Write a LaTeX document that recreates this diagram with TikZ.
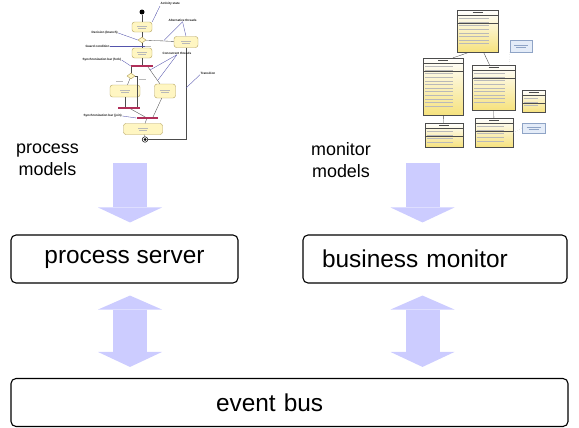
\documentclass[tikz,border=0pt]{standalone}
\usepackage{fontspec}
\setmainfont{Liberation Sans}
\usetikzlibrary{arrows.meta,shapes.geometric,positioning}

\definecolor{fatblue}{HTML}{CCCCFF}
\definecolor{actfill}{HTML}{FFF6C2}
\definecolor{actline}{HTML}{B3A05A}
\definecolor{barred}{HTML}{B0305A}
\definecolor{notefill}{HTML}{E4ECF8}
\definecolor{notepen}{HTML}{8FA4C6}
\definecolor{clsyellow}{HTML}{F6E27E}

\begin{document}
\begin{tikzpicture}[
  box/.style={draw,line width=1.1bp,rounded corners=5bp,inner sep=0pt,minimum height=48bp,font=\fontsize{24.5}{29}\selectfont},
  side/.style={align=center,inner sep=0pt,font=\fontsize{18}{22}\selectfont},
  fat/.style={draw=fatblue,line width=34bp,-{Triangle[length=15bp,width=64bp,line width=0pt]}},
  fatboth/.style={fat,{Triangle[length=14bp,width=64bp,line width=0pt]}-{Triangle[length=15bp,width=64bp,line width=0pt]}},
  scrib/.style={draw=gray!55,line width=.45bp},
  act/.style={draw=actline,fill=actfill,rounded corners=2.5bp,line width=.4bp,inner sep=0pt,minimum width=20bp,minimum height=10bp,
    path picture={\draw[scrib] ([xshift=-5bp,yshift=1.2bp]path picture bounding box.center) -- ++(10bp,0)
                               ([xshift=-4bp,yshift=-1.2bp]path picture bounding box.center) -- ++(8bp,0);}},
  branch/.style={diamond,draw=actline,fill=actfill,line width=.4bp,inner sep=0pt,minimum width=8bp,minimum height=6bp},
  syncbar/.style={fill=barred,inner sep=0pt,minimum height=1.6bp},
  flow/.style={draw=gray!60!black,line width=.35bp},
  lead/.style={draw=blue!35!gray,line width=.35bp},
  tag/.style={font=\fontsize{3.1}{3.6}\selectfont\bfseries,text=black!90,inner sep=.4bp},
  cls/.style={draw=gray!60!black,line width=.35bp,top color=white,bottom color=clsyellow,inner sep=0pt},
  clsline/.style={draw=gray!60!black,line width=.3bp},
  clstitle/.style={draw=black!70,line width=.7bp},
  note/.style={draw=notepen,fill=notefill,line width=.3bp,inner sep=0pt},
  assoc/.style={draw=gray!55!black,line width=.35bp},
  anchorline/.style={draw=gray!60,line width=.35bp,dotted}
]
\useasboundingbox (0,0) rectangle (579bp,-428bp);

% activity diagram (process models)
\node (start) at (142bp,-12bp)[circle,fill=black,inner sep=0pt,minimum size=5bp] {};
\node (A1) at (142bp,-27bp)[act] {};
\node (D1) at (142bp,-40bp)[branch] {};
\node (A2) at (142bp,-53bp)[act] {};
\node (A3) at (186bp,-42bp)[act,minimum width=24bp,minimum height=11bp] {};
\node (F1) at (142bp,-66bp)[syncbar,minimum width=22bp] {};
\node (D2) at (131bp,-76bp)[branch] {};
\node (A4) at (125bp,-91bp)[act,minimum width=30bp,minimum height=12bp] {};
\node (A5) at (165bp,-91bp)[act,minimum width=21bp,minimum height=14bp] {};
\node (J1) at (129bp,-108bp)[syncbar,minimum width=22bp] {};
\node (J2) at (147bp,-118bp)[syncbar,minimum width=21bp] {};
\node (A6) at (143bp,-129bp)[act,minimum width=39bp,minimum height=11bp] {};
\node (stop) at (145bp,-139.5bp)[circle,draw,line width=.5bp,inner sep=0pt,minimum size=5.5bp,
  label={[circle,fill=black,inner sep=0pt,minimum size=3bp]center:}] {};

\draw[flow] (start) -- (A1);
\draw[flow] (A1) -- (D1);
\draw[flow] (D1) -- (A2);
\draw[flow] (D1) -- (A3);
\draw[flow] (A2) -- (F1);
\draw[flow] (D2 |- F1.south) -- (D2);
\draw[flow] ([xshift=6bp]F1.south) -- (A5);
\draw[flow] (D2) -- (A4);
\draw[flow] (D2.east) -| ([xshift=8bp]J1.north);
\draw[flow] (A4) -- (A4 |- J1.north);
\draw[flow] (J1) -- (J2);
\draw[flow] (A5) -- ([xshift=6bp]J2.north);
\draw[flow] (J2) -- (A6);
\draw[flow] (A6) -- (stop);
\draw[flow] (A3) -- (A3 |- stop) -- (stop);
% guard marks
\draw[scrib] (155bp,-40.5bp) -- ++(8bp,0) (145bp,-46bp) -- ++(6bp,0)
             (116bp,-81bp) -- ++(7bp,0) (139bp,-79bp) -- ++(7bp,0);

\node (tAct) at (160bp,-4bp)[tag,anchor=west] {Activity state};
\node (tAlt) at (168bp,-20bp)[tag,anchor=west] {Alternative threads};
\node (tDec) at (91bp,-33bp)[tag,anchor=west] {Decision (branch)};
\node (tGrd) at (85bp,-46bp)[tag,anchor=west] {Guard condition};
\node (tCon) at (162bp,-53bp)[tag,anchor=west] {Concurrent threads};
\node (tFrk) at (82bp,-60bp)[tag,anchor=west] {Synchronization bar (fork)};
\node (tTrn) at (200bp,-73bp)[tag,anchor=west] {Transition};
\node (tJoi) at (83bp,-116bp)[tag,anchor=west] {Synchronization bar (join)};
\draw[lead] (tAct.south west) -- (A1.north east);
\draw[lead] (tAlt.south) -- (164bp,-40.5bp);
\draw[lead] (tAlt.south) -- (A3.north);
\draw[lead] (tDec.east) -- (D1.west);
\draw[lead] (tGrd.east) -- (145bp,-46bp);
\draw[lead] (tFrk.east) -- (F1.west);
\draw[lead] (tCon.south) -- (150bp,-70bp);
\draw[lead] (tCon.south) -- (158bp,-80bp);
\draw[lead] (tTrn.south west) -- (186bp,-88bp);
\draw[lead] (tJoi.east) -- (J2.west);

% class diagram (monitor models)
\node (C1) at (477.5bp,-31bp)[cls,minimum width=41bp,minimum height=42bp] {};
\node (C2) at (443bp,-86.5bp)[cls,minimum width=40bp,minimum height=57bp] {};
\node (C3) at (493.5bp,-87.5bp)[cls,minimum width=43bp,minimum height=45bp] {};
\node (C4) at (533.5bp,-101bp)[cls,minimum width=23bp,minimum height=22bp] {};
\node (C5) at (444bp,-135bp)[cls,minimum width=38bp,minimum height=24bp] {};
\node (C6) at (494bp,-132.5bp)[cls,minimum width=38bp,minimum height=29bp] {};
\node (N1) at (521bp,-46bp)[note,minimum width=22bp,minimum height=12bp] {};
\node (N2) at (533.5bp,-128bp)[note,minimum width=23bp,minimum height=10bp] {};

\foreach \c/\w/\n in {C1/30/8,C2/28/12,C3/31/9,C4/14/3,C5/26/4,C6/27/5} {
  \draw[clsline] ([yshift=-5bp]\c.north west) -- ([yshift=-5bp]\c.north east);
  \draw[clsline] ([yshift=-13.5bp]\c.north west) -- ([yshift=-13.5bp]\c.north east);
  \draw[clstitle] ([xshift=-5bp,yshift=-2.5bp]\c.north) -- ++(10bp,0);
  \foreach \r in {1,...,\n}
    \draw[scrib] ([xshift=2bp,yshift={-5bp-\r*3.6bp}]\c.north west) -- ++(\w*1bp,0);
}
\foreach \c in {N1,N2}
  \draw[scrib,draw=notepen] ([xshift=-7bp,yshift=1.2bp]\c.center) -- ++(14bp,0)
                            ([xshift=-5bp,yshift=-1.2bp]\c.center) -- ++(10bp,0);

\draw[assoc] ([xshift=-8bp]C1.south) -- ([xshift=10bp]C2.north);
\draw[assoc] ([xshift=6bp]C1.south) -- ([xshift=-4bp]C3.north);
\draw[assoc] (C2) -- (C5);
\draw[assoc] (C3) -- (C6);
\draw[anchorline] (N1.south west) -- ([xshift=-6bp]C3.north east);
\draw[anchorline] (N2.west) -- (C6.east);

% servers and bus
\node (ps) at (124.5bp,-259bp)[box,minimum width=227bp] {process server};
\node (bm) at (435bp,-259bp)[box,text width=226bp,inner xsep=19bp,align=left] {business monitor};
\node (bus) at (289.5bp,-402.5bp)[box,text width=147bp,inner xsep=205bp,align=left] {event bus};

\node (pmlabel) at (47.5bp,-160bp)[side] {process\\models};
\node (mmlabel) at (341bp,-160bp)[side] {monitor\\models};

\coordinate (pm) at (130bp,-163bp);
\coordinate (mm) at (422.5bp,-163bp);
\draw[fat,shorten >=12bp] (pm) -- (pm |- ps.north);
\draw[fat,shorten >=12bp] (mm) -- (mm |- bm.north);
\draw[fatboth,shorten <=12bp,shorten >=11bp] (pm |- ps.south) -- (pm |- bus.north);
\draw[fatboth,shorten <=12bp,shorten >=11bp] (mm |- bm.south) -- (mm |- bus.north);
\end{tikzpicture}
\end{document}
